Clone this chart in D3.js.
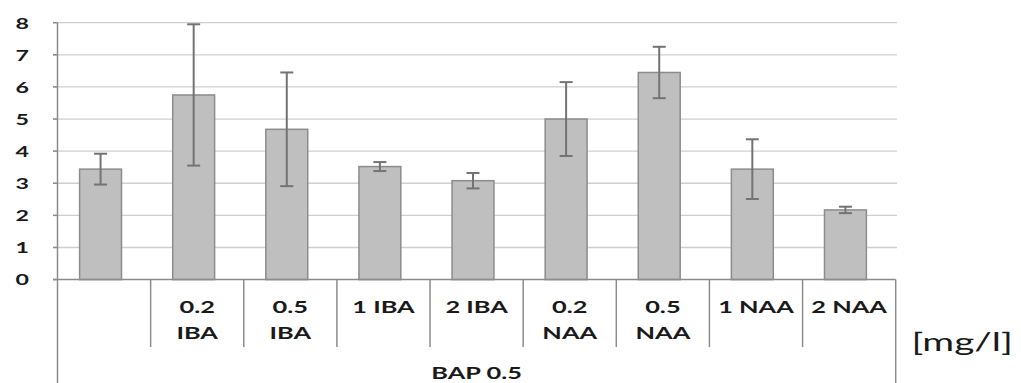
<!DOCTYPE html>
<html>
<head>
<meta charset="utf-8">
<script src="https://cdn.jsdelivr.net/npm/d3@7/dist/d3.min.js"></script>
<style>
html,body{margin:0;padding:0;background:#fff;}
svg{display:block;}
text{font-family:Lato, "DejaVu Sans", sans-serif;}
</style>
</head>
<body>
<svg id="chart" width="1021" height="383"></svg>
<script>
const categories = ["", "0.2\nIBA", "0.5\nIBA", "1 IBA", "2 IBA", "0.2\nNAA", "0.5\nNAA", "1 NAA", "2 NAA"];
const values = [3.44, 5.75, 4.68, 3.52, 3.08, 5.0, 6.45, 3.44, 2.17];
const errors = [0.48, 2.2, 1.77, 0.14, 0.24, 1.15, 0.8, 0.93, 0.1];
const yTicks = [0, 1, 2, 3, 4, 5, 6, 7, 8];
const groupLabel = "BAP 0.5";
const unitLabel = "[mg/l]";

const svg = d3.select("#chart");
const SX = 1.45;

const y = d3.scaleLinear().domain([0, 8]).range([279.6, 22.7]);
const xBar = d3.scaleBand().domain(categories).range([54, 892]).paddingInner(0.55).paddingOuter(0.275);
const xTab = d3.scaleBand().domain(categories).range([57.5, 895.7]);

const left = 57.5, right = 897;

// gridlines
svg.append("g").selectAll("line").data(yTicks.filter(d => d > 0)).join("line")
  .attr("x1", 53).attr("x2", right)
  .attr("y1", d => y(d)).attr("y2", d => y(d))
  .attr("stroke", "#cfcfcf").attr("stroke-width", 1.3);

// y tick labels
svg.append("g").selectAll("text").data(yTicks).join("text")
  .attr("transform", d => `translate(29,${y(d) + 5.8}) scale(${SX},1)`)
  .attr("text-anchor", "end")
  .attr("font-size", 16).attr("font-weight", 700).attr("fill", "#1a1a1a")
  .text(d => d);

// bars
svg.append("g").selectAll("rect").data(values).join("rect")
  .attr("x", (d, i) => xBar(categories[i]))
  .attr("width", xBar.bandwidth())
  .attr("y", d => y(d))
  .attr("height", d => y(0) - y(d))
  .attr("fill", "#bfbfbf").attr("stroke", "#8c8c8c").attr("stroke-width", 1.5);

// error bars
const eg = svg.append("g").attr("stroke", "#737373").attr("stroke-width", 2);
values.forEach((v, i) => {
  const cx = xBar(categories[i]) + xBar.bandwidth() / 2;
  const hi = y(v + errors[i]), lo = y(v - errors[i]);
  eg.append("line").attr("x1", cx).attr("x2", cx).attr("y1", hi).attr("y2", lo);
  eg.append("line").attr("x1", cx - 6.5).attr("x2", cx + 6.5).attr("y1", hi).attr("y2", hi);
  eg.append("line").attr("x1", cx - 6.5).attr("x2", cx + 6.5).attr("y1", lo).attr("y2", lo);
});

// axes / table lines
const lc = "#8c8c8c";
const tg = svg.append("g").attr("stroke", lc).attr("stroke-width", 1.5);
tg.append("line").attr("x1", 53).attr("x2", xTab.range()[1]).attr("y1", y(0)).attr("y2", y(0));
tg.append("line").attr("x1", left).attr("x2", left).attr("y1", y(8)).attr("y2", 383);
tg.append("line").attr("x1", xTab.range()[1]).attr("x2", xTab.range()[1]).attr("y1", y(0)).attr("y2", 383);
tg.selectAll("line.div").data(categories.slice(1)).join("line").attr("class", "div")
  .attr("x1", d => xTab(d)).attr("x2", d => xTab(d))
  .attr("y1", y(0)).attr("y2", 347);
// y tick marks
tg.selectAll("line.tk").data(yTicks).join("line").attr("class", "tk")
  .attr("x1", 53).attr("x2", left).attr("y1", d => y(d)).attr("y2", d => y(d));

// category labels
const cg = svg.append("g");
categories.forEach(c => {
  const cx = xTab(c) + xTab.bandwidth() / 2;
  c.split("\n").forEach((line, k) => {
    if (!line) return;
    cg.append("text")
      .attr("transform", `translate(${cx},${312.7 + k * 26.6}) scale(${SX},1)`)
      .attr("text-anchor", "middle")
      .attr("font-size", 17.5).attr("font-weight", 700).attr("fill", "#1a1a1a")
      .text(line);
  });
});

// group label
svg.append("text")
  .attr("transform", `translate(${(xTab.range()[0] + xTab.range()[1]) / 2},378.5) scale(${SX},1)`)
  .attr("text-anchor", "middle")
  .attr("font-size", 17.5).attr("font-weight", 700).attr("fill", "#1a1a1a")
  .text(groupLabel);

// unit label
svg.append("text")
  .attr("transform", `translate(911.5,351) scale(1.55,1)`)
  .attr("font-size", 25).attr("fill", "#1a1a1a")
  .text(unitLabel);
</script>
</body>
</html>
